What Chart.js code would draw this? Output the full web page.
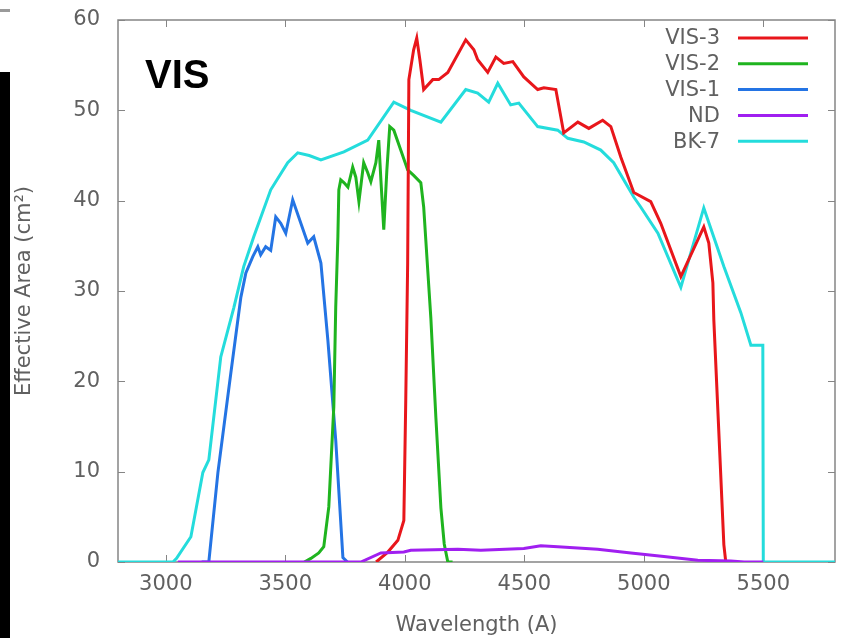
<!DOCTYPE html>
<html>
<head>
<meta charset="utf-8">
<script src="https://cdn.jsdelivr.net/npm/chart.js@4"></script>
<style>
  html, body { margin: 0; padding: 0; background: #fff; }
  #wrap { position: relative; width: 863px; height: 638px; overflow: hidden; }
  #wrap canvas { position: absolute; left: 0; top: 0; }
  #edge { position: absolute; left: 0; top: 72px; width: 10px; height: 566px; background: #000; }
  #mark { position: absolute; left: 0; top: 9px; width: 10px; height: 3px; background: #9a9a9a; }
</style>
</head>
<body>
<div id="wrap">
  <canvas id="chart" width="863" height="638"></canvas>
  <div id="edge"></div>
  <div id="mark"></div>
</div>
<script>
// Effective area (cm^2) against wavelength (Angstrom) for each filter.
const vis3Wave = [3880, 3929, 3971, 3996, 4004, 4012, 4017, 4037, 4050, 4063, 4079, 4117, 4142, 4180, 4255, 4289, 4305, 4347, 4381, 4414, 4452, 4498, 4556, 4582, 4632, 4665, 4724, 4770, 4828, 4862, 4904, 4958, 5029, 5071, 5155, 5251, 5272, 5289, 5293, 5335, 5343, 5380];
const vis3Area = [0, 1.1, 2.4, 4.6, 17.9, 33.1, 53.4, 56.7, 58.0, 55.6, 52.3, 53.4, 53.4, 54.2, 57.8, 56.7, 55.6, 54.2, 55.9, 55.2, 55.4, 53.7, 52.3, 52.5, 52.3, 47.5, 48.7, 48.0, 48.9, 48.2, 44.8, 40.9, 39.9, 37.5, 31.6, 37.1, 35.3, 30.9, 26.8, 1.9, 0, 0];

const vis2Wave = [3580, 3607, 3640, 3661, 3682, 3703, 3711, 3720, 3724, 3732, 3745, 3762, 3782, 3795, 3808, 3828, 3845, 3858, 3879, 3891, 3900, 3912, 3925, 3937, 3954, 3983, 4012, 4037, 4067, 4079, 4096, 4109, 4130, 4151, 4165, 4180, 4200];
const vis2Area = [0, 0.4, 1.0, 1.7, 6.1, 17.2, 28.2, 36.0, 41.2, 42.3, 42.0, 41.5, 43.7, 42.6, 39.9, 44.2, 43.1, 42.1, 44.2, 46.7, 42.3, 36.8, 43.4, 48.2, 47.8, 45.6, 43.4, 42.8, 42.0, 39.3, 32.3, 27.0, 16.0, 6.0, 2.0, 0, 0];

const vis1Wave = [3150, 3180, 3218, 3272, 3314, 3335, 3364, 3385, 3397, 3418, 3439, 3460, 3481, 3502, 3531, 3556, 3594, 3619, 3649, 3678, 3711, 3741, 3760];
const vis1Area = [0, 0, 9.9, 20.9, 29.3, 32.0, 33.8, 34.9, 34.0, 34.9, 34.5, 38.2, 37.5, 36.4, 40.1, 38.2, 35.3, 36.0, 33.1, 24.6, 13.5, 0.5, 0];

const ndWave = [3050, 3816, 3900, 3996, 4025, 4222, 4318, 4498, 4569, 4640, 4807, 4946, 5084, 5226, 5364, 5420, 5500];
const ndArea = [0, 0, 1.0, 1.1, 1.3, 1.4, 1.3, 1.5, 1.8, 1.7, 1.4, 1.0, 0.6, 0.2, 0.1, 0, 0];

const bk7Wave = [2800, 3030, 3045, 3105, 3155, 3180, 3230, 3285, 3326, 3368, 3439, 3510, 3552, 3600, 3649, 3745, 3845, 3954, 4025, 4151, 4255, 4305, 4351, 4389, 4443, 4477, 4556, 4640, 4682, 4749, 4820, 4874, 4958, 4987, 5059, 5155, 5251, 5335, 5406, 5448, 5498, 5500, 5800];
const bk7Area = [0, 0, 0.4, 2.8, 9.9, 11.3, 22.7, 28.2, 32.7, 36.0, 41.2, 44.2, 45.3, 45.0, 44.5, 45.4, 46.7, 50.9, 50.0, 48.7, 52.3, 51.9, 50.9, 53.0, 50.6, 50.8, 48.2, 47.8, 46.9, 46.5, 45.6, 44.2, 40.4, 39.3, 36.4, 30.4, 39.2, 32.7, 27.6, 24.0, 24.0, 0, 0];

const xTickValues = [3000, 3500, 4000, 4500, 5000, 5500];
const yTickValues = [0, 10, 20, 30, 40, 50, 60];
const legendOrder = ['VIS-3', 'VIS-2', 'VIS-1', 'ND', 'BK-7'];

const TEXT = '#606060';
const FRAME = '#858585';
const FONT = 'DejaVu Sans';

function pts(w, a) { return w.map((x, i) => ({ x: x, y: a[i] })); }
function line(label, w, a, color) {
  return { label, data: pts(w, a), borderColor: color, backgroundColor: color,
           borderWidth: 3, pointRadius: 0, tension: 0, fill: false };
}

// Frame, inward tick marks, key and panel label, drawn the way gnuplot lays them out.
const decor = {
  id: 'decor',
  beforeDatasetsDraw(chart) {
    const { ctx, chartArea: a, scales: { x, y } } = chart;
    ctx.save();
    ctx.strokeStyle = FRAME;
    ctx.lineWidth = 1;
    ctx.beginPath();
    xTickValues.forEach(v => {
      const px = Math.round(x.getPixelForValue(v)) + 0.5;
      ctx.moveTo(px, a.bottom); ctx.lineTo(px, a.bottom - 7);
      ctx.moveTo(px, a.top); ctx.lineTo(px, a.top + 7);
    });
    yTickValues.forEach(v => {
      const py = Math.round(y.getPixelForValue(v)) + 0.5;
      ctx.moveTo(a.left, py); ctx.lineTo(a.left + 7, py);
      ctx.moveTo(a.right, py); ctx.lineTo(a.right - 7, py);
    });
    ctx.stroke();
    ctx.lineWidth = 1.5;
    ctx.strokeRect(a.left, a.top, a.right - a.left, a.bottom - a.top);
    ctx.restore();
  },
  afterDraw(chart) {
    const { ctx, chartArea: a } = chart;
    ctx.save();
    // key in the upper right corner
    ctx.font = '21px "' + FONT + '"';
    ctx.textAlign = 'right';
    ctx.textBaseline = 'middle';
    legendOrder.forEach((name, i) => {
      const ds = chart.data.datasets.find(d => d.label === name);
      const yy = a.top + 18 + i * 25.8;
      ctx.fillStyle = TEXT;
      ctx.fillText(name, a.right - 115, yy + 1);
      ctx.strokeStyle = ds.borderColor;
      ctx.lineWidth = 3;
      ctx.beginPath();
      ctx.moveTo(a.right - 97, yy);
      ctx.lineTo(a.right - 27, yy);
      ctx.stroke();
    });
    // panel label
    ctx.fillStyle = '#000';
    ctx.textAlign = 'left';
    ctx.textBaseline = 'alphabetic';
    ctx.font = 'bold 40px "Liberation Sans"';
    ctx.fillText('VIS', a.left + 27, 88);
    ctx.restore();
  }
};

new Chart(document.getElementById('chart'), {
  type: 'line',
  data: {
    datasets: [
      line('ND', ndWave, ndArea, '#a01ff0'),
      line('VIS-3', vis3Wave, vis3Area, '#e8161b'),
      line('VIS-2', vis2Wave, vis2Area, '#1fb41f'),
      line('VIS-1', vis1Wave, vis1Area, '#2474e4'),
      line('BK-7', bk7Wave, bk7Area, '#24dcdc')
    ]
  },
  options: {
    responsive: false,
    animation: false,
    layout: { padding: { top: 20, right: 28, left: 0, bottom: 0 } },
    plugins: { legend: { display: false }, tooltip: { enabled: false } },
    scales: {
      x: {
        type: 'linear', min: 2800, max: 5800,
        afterBuildTicks(s) { s.ticks = xTickValues.map(v => ({ value: v })); },
        afterFit(s) { s.height = 76; s.paddingLeft = 0; s.paddingRight = 0; },
        grid: { display: false, drawTicks: false },
        border: { display: false },
        ticks: { color: TEXT, font: { family: FONT, size: 21 }, padding: 10, maxRotation: 0, autoSkip: false,
                 callback: v => String(v) },
        title: { display: true, text: 'Wavelength (A)', color: TEXT, font: { family: FONT, size: 21 }, padding: { top: 0, bottom: 0 } }
      },
      y: {
        type: 'linear', min: 0, max: 60,
        afterBuildTicks(s) { s.ticks = yTickValues.map(v => ({ value: v })); },
        afterFit(s) { s.width = 118; s.paddingTop = 0; s.paddingBottom = 0; },
        grid: { display: false, drawTicks: false },
        border: { display: false },
        ticks: { color: TEXT, font: { family: FONT, size: 21 }, padding: 18, callback: v => String(v) },
        title: { display: true, text: 'Effective Area (cm²)', color: TEXT, font: { family: FONT, size: 21 }, padding: { top: 12, bottom: 0 } }
      }
    }
  },
  plugins: [decor]
});
</script>
</body>
</html>
